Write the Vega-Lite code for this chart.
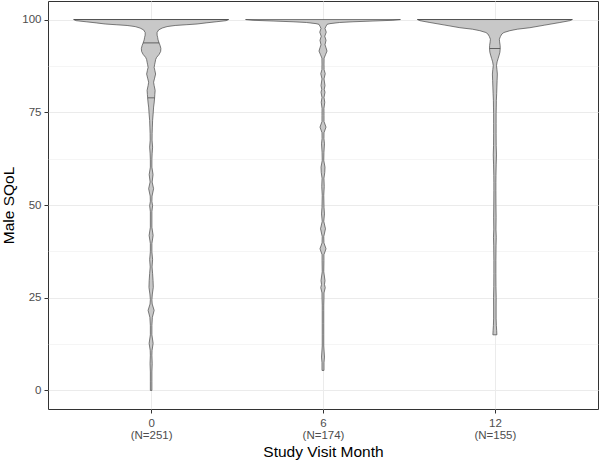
{
"$schema": "https://vega.github.io/schema/vega-lite/v6.json",
"width": 550, "height": 408,
"autosize": {"type": "none"},
"padding": {"left": 48, "top": 1, "right": 2, "bottom": 53},
"background": "white",
"config": {
  "view": {"stroke": "#333333", "strokeWidth": 1},
  "font": "Liberation Sans",
  "axis": {"domain": false, "gridColor": "#ebebeb", "tickColor": "#333333", "labelColor": "#4d4d4d", "labelFont": "Liberation Sans", "titleFont": "Liberation Sans", "titleFontWeight": "normal", "titleColor": "#000000", "labelFontSize": 11.5, "titleFontSize": 15.5}
},
"data": {"values": [
{"month":0,"value":100,"density":1,"part":"outline"},
{"month":0,"value":99.7,"density":0.968,"part":"outline"},
{"month":0,"value":99.4,"density":0.839,"part":"outline"},
{"month":0,"value":99.1,"density":0.71,"part":"outline"},
{"month":0,"value":98.8,"density":0.594,"part":"outline"},
{"month":0,"value":98.6,"density":0.452,"part":"outline"},
{"month":0,"value":98.4,"density":0.31,"part":"outline"},
{"month":0,"value":98.1,"density":0.206,"part":"outline"},
{"month":0,"value":97.7,"density":0.142,"part":"outline"},
{"month":0,"value":97.2,"density":0.097,"part":"outline"},
{"month":0,"value":96.5,"density":0.077,"part":"outline"},
{"month":0,"value":95.8,"density":0.077,"part":"outline"},
{"month":0,"value":95.2,"density":0.084,"part":"outline"},
{"month":0,"value":94.5,"density":0.09,"part":"outline"},
{"month":0,"value":93.7,"density":0.103,"part":"outline"},
{"month":0,"value":93,"density":0.116,"part":"outline"},
{"month":0,"value":92.2,"density":0.126,"part":"outline"},
{"month":0,"value":91.4,"density":0.123,"part":"outline"},
{"month":0,"value":90.6,"density":0.103,"part":"outline"},
{"month":0,"value":89.8,"density":0.071,"part":"outline"},
{"month":0,"value":89.2,"density":0.058,"part":"outline"},
{"month":0,"value":88.5,"density":0.052,"part":"outline"},
{"month":0,"value":87.8,"density":0.045,"part":"outline"},
{"month":0,"value":87.1,"density":0.039,"part":"outline"},
{"month":0,"value":86.3,"density":0.048,"part":"outline"},
{"month":0,"value":85.3,"density":0.058,"part":"outline"},
{"month":0,"value":84.2,"density":0.045,"part":"outline"},
{"month":0,"value":83.1,"density":0.032,"part":"outline"},
{"month":0,"value":82.2,"density":0.039,"part":"outline"},
{"month":0,"value":80.9,"density":0.052,"part":"outline"},
{"month":0,"value":79.8,"density":0.048,"part":"outline"},
{"month":0,"value":78.9,"density":0.045,"part":"outline"},
{"month":0,"value":77.5,"density":0.039,"part":"outline"},
{"month":0,"value":76.4,"density":0.032,"part":"outline"},
{"month":0,"value":74.5,"density":0.026,"part":"outline"},
{"month":0,"value":72.8,"density":0.019,"part":"outline"},
{"month":0,"value":71,"density":0.016,"part":"outline"},
{"month":0,"value":69.3,"density":0.013,"part":"outline"},
{"month":0,"value":67.5,"density":0.012,"part":"outline"},
{"month":0,"value":65.6,"density":0.019,"part":"outline"},
{"month":0,"value":63.8,"density":0.013,"part":"outline"},
{"month":0,"value":62.2,"density":0.01,"part":"outline"},
{"month":0,"value":60.2,"density":0.01,"part":"outline"},
{"month":0,"value":58.2,"density":0.025,"part":"outline"},
{"month":0,"value":56.2,"density":0.013,"part":"outline"},
{"month":0,"value":54.4,"density":0.032,"part":"outline"},
{"month":0,"value":52.4,"density":0.012,"part":"outline"},
{"month":0,"value":51,"density":0.01,"part":"outline"},
{"month":0,"value":49.8,"density":0.019,"part":"outline"},
{"month":0,"value":48.2,"density":0.01,"part":"outline"},
{"month":0,"value":46.5,"density":0.01,"part":"outline"},
{"month":0,"value":44,"density":0.01,"part":"outline"},
{"month":0,"value":41.8,"density":0.026,"part":"outline"},
{"month":0,"value":39.6,"density":0.01,"part":"outline"},
{"month":0,"value":37.4,"density":0.01,"part":"outline"},
{"month":0,"value":35.3,"density":0.019,"part":"outline"},
{"month":0,"value":33.3,"density":0.012,"part":"outline"},
{"month":0,"value":31.5,"density":0.019,"part":"outline"},
{"month":0,"value":29.6,"density":0.025,"part":"outline"},
{"month":0,"value":27.8,"density":0.028,"part":"outline"},
{"month":0,"value":26,"density":0.016,"part":"outline"},
{"month":0,"value":24.5,"density":0.01,"part":"outline"},
{"month":0,"value":23.3,"density":0.014,"part":"outline"},
{"month":0,"value":21.6,"density":0.039,"part":"outline"},
{"month":0,"value":19.7,"density":0.016,"part":"outline"},
{"month":0,"value":17.5,"density":0.01,"part":"outline"},
{"month":0,"value":15,"density":0.01,"part":"outline"},
{"month":0,"value":12.7,"density":0.026,"part":"outline"},
{"month":0,"value":10.8,"density":0.012,"part":"outline"},
{"month":0,"value":9.5,"density":0.01,"part":"outline"},
{"month":0,"value":7.2,"density":0.014,"part":"outline"},
{"month":0,"value":5,"density":0.01,"part":"outline"},
{"month":0,"value":2.5,"density":0.01,"part":"outline"},
{"month":0,"value":0,"density":0.01,"part":"outline"},
{"month":0,"value":93.7,"density":0.103,"part":"quantile"},
{"month":0,"value":78.9,"density":0.045,"part":"quantile"},
{"month":6,"value":100,"density":1,"part":"outline"},
{"month":6,"value":99.8,"density":0.903,"part":"outline"},
{"month":6,"value":99.6,"density":0.645,"part":"outline"},
{"month":6,"value":99.4,"density":0.387,"part":"outline"},
{"month":6,"value":99.2,"density":0.213,"part":"outline"},
{"month":6,"value":98.9,"density":0.09,"part":"outline"},
{"month":6,"value":98.7,"density":0.052,"part":"outline"},
{"month":6,"value":98.2,"density":0.039,"part":"outline"},
{"month":6,"value":97.6,"density":0.026,"part":"outline"},
{"month":6,"value":96.6,"density":0.042,"part":"outline"},
{"month":6,"value":95.5,"density":0.023,"part":"outline"},
{"month":6,"value":94.4,"density":0.039,"part":"outline"},
{"month":6,"value":93.2,"density":0.026,"part":"outline"},
{"month":6,"value":92.4,"density":0.039,"part":"outline"},
{"month":6,"value":91.5,"density":0.052,"part":"outline"},
{"month":6,"value":90.5,"density":0.032,"part":"outline"},
{"month":6,"value":89.6,"density":0.014,"part":"outline"},
{"month":6,"value":88,"density":0.013,"part":"outline"},
{"month":6,"value":86.5,"density":0.014,"part":"outline"},
{"month":6,"value":85.4,"density":0.029,"part":"outline"},
{"month":6,"value":84,"density":0.013,"part":"outline"},
{"month":6,"value":82.2,"density":0.026,"part":"outline"},
{"month":6,"value":81.2,"density":0.016,"part":"outline"},
{"month":6,"value":80.4,"density":0.026,"part":"outline"},
{"month":6,"value":79,"density":0.013,"part":"outline"},
{"month":6,"value":77.7,"density":0.023,"part":"outline"},
{"month":6,"value":76,"density":0.012,"part":"outline"},
{"month":6,"value":74.1,"density":0.013,"part":"outline"},
{"month":6,"value":72.5,"density":0.013,"part":"outline"},
{"month":6,"value":71,"density":0.039,"part":"outline"},
{"month":6,"value":69.5,"density":0.013,"part":"outline"},
{"month":6,"value":67.9,"density":0.012,"part":"outline"},
{"month":6,"value":66.5,"density":0.019,"part":"outline"},
{"month":6,"value":64.2,"density":0.012,"part":"outline"},
{"month":6,"value":62,"density":0.01,"part":"outline"},
{"month":6,"value":60.2,"density":0.026,"part":"outline"},
{"month":6,"value":58.8,"density":0.023,"part":"outline"},
{"month":6,"value":57.2,"density":0.012,"part":"outline"},
{"month":6,"value":55,"density":0.016,"part":"outline"},
{"month":6,"value":52.6,"density":0.01,"part":"outline"},
{"month":6,"value":49.4,"density":0.013,"part":"outline"},
{"month":6,"value":47.6,"density":0.019,"part":"outline"},
{"month":6,"value":45.6,"density":0.01,"part":"outline"},
{"month":6,"value":43.6,"density":0.032,"part":"outline"},
{"month":6,"value":41.5,"density":0.01,"part":"outline"},
{"month":6,"value":39.8,"density":0.012,"part":"outline"},
{"month":6,"value":38.2,"density":0.039,"part":"outline"},
{"month":6,"value":36.6,"density":0.012,"part":"outline"},
{"month":6,"value":35,"density":0.012,"part":"outline"},
{"month":6,"value":32,"density":0.01,"part":"outline"},
{"month":6,"value":29.6,"density":0.026,"part":"outline"},
{"month":6,"value":28.6,"density":0.019,"part":"outline"},
{"month":6,"value":27.7,"density":0.029,"part":"outline"},
{"month":6,"value":26.3,"density":0.013,"part":"outline"},
{"month":6,"value":25.2,"density":0.013,"part":"outline"},
{"month":6,"value":23,"density":0.01,"part":"outline"},
{"month":6,"value":21.6,"density":0.01,"part":"outline"},
{"month":6,"value":18,"density":0.01,"part":"outline"},
{"month":6,"value":15,"density":0.01,"part":"outline"},
{"month":6,"value":12,"density":0.01,"part":"outline"},
{"month":6,"value":9,"density":0.019,"part":"outline"},
{"month":6,"value":7.5,"density":0.013,"part":"outline"},
{"month":6,"value":5.4,"density":0.013,"part":"outline"},
{"month":12,"value":100,"density":1,"part":"outline"},
{"month":12,"value":99.7,"density":0.968,"part":"outline"},
{"month":12,"value":99.2,"density":0.839,"part":"outline"},
{"month":12,"value":98.5,"density":0.645,"part":"outline"},
{"month":12,"value":97.8,"density":0.452,"part":"outline"},
{"month":12,"value":97.4,"density":0.29,"part":"outline"},
{"month":12,"value":97,"density":0.194,"part":"outline"},
{"month":12,"value":96.5,"density":0.116,"part":"outline"},
{"month":12,"value":96.1,"density":0.09,"part":"outline"},
{"month":12,"value":95.4,"density":0.071,"part":"outline"},
{"month":12,"value":94.7,"density":0.058,"part":"outline"},
{"month":12,"value":94,"density":0.061,"part":"outline"},
{"month":12,"value":93,"density":0.068,"part":"outline"},
{"month":12,"value":92.2,"density":0.069,"part":"outline"},
{"month":12,"value":91.2,"density":0.065,"part":"outline"},
{"month":12,"value":90.4,"density":0.055,"part":"outline"},
{"month":12,"value":89.5,"density":0.042,"part":"outline"},
{"month":12,"value":88.6,"density":0.029,"part":"outline"},
{"month":12,"value":87.6,"density":0.021,"part":"outline"},
{"month":12,"value":86.5,"density":0.027,"part":"outline"},
{"month":12,"value":85.3,"density":0.032,"part":"outline"},
{"month":12,"value":83.6,"density":0.029,"part":"outline"},
{"month":12,"value":81.8,"density":0.026,"part":"outline"},
{"month":12,"value":80,"density":0.023,"part":"outline"},
{"month":12,"value":78.2,"density":0.019,"part":"outline"},
{"month":12,"value":76.4,"density":0.018,"part":"outline"},
{"month":12,"value":74.6,"density":0.016,"part":"outline"},
{"month":12,"value":72,"density":0.016,"part":"outline"},
{"month":12,"value":69.2,"density":0.016,"part":"outline"},
{"month":12,"value":66,"density":0.017,"part":"outline"},
{"month":12,"value":63.5,"density":0.021,"part":"outline"},
{"month":12,"value":61,"density":0.017,"part":"outline"},
{"month":12,"value":58,"density":0.014,"part":"outline"},
{"month":12,"value":56,"density":0.013,"part":"outline"},
{"month":12,"value":53.9,"density":0.013,"part":"outline"},
{"month":12,"value":50,"density":0.014,"part":"outline"},
{"month":12,"value":46.7,"density":0.016,"part":"outline"},
{"month":12,"value":43.5,"density":0.014,"part":"outline"},
{"month":12,"value":41.3,"density":0.018,"part":"outline"},
{"month":12,"value":39,"density":0.015,"part":"outline"},
{"month":12,"value":35,"density":0.013,"part":"outline"},
{"month":12,"value":31.5,"density":0.013,"part":"outline"},
{"month":12,"value":28,"density":0.014,"part":"outline"},
{"month":12,"value":25.1,"density":0.017,"part":"outline"},
{"month":12,"value":22.5,"density":0.016,"part":"outline"},
{"month":12,"value":19.5,"density":0.016,"part":"outline"},
{"month":12,"value":17.5,"density":0.019,"part":"outline"},
{"month":12,"value":16.2,"density":0.023,"part":"outline"},
{"month":12,"value":15,"density":0.026,"part":"outline"},
{"month":12,"value":92.2,"density":0.069,"part":"quantile"}
]},
"encoding": {
  "y": {"field": "value", "type": "quantitative",
    "scale": {"domain": [-5, 105], "nice": false, "zero": false, "padding": 0},
    "axis": {"title": "Male SQoL", "values": [0, 12.5, 25, 37.5, 50, 62.5, 75, 87.5, 100],
      "labelExpr": "datum.value % 25 == 0 ? datum.label : ''",
      "labelOverlap": false,
      "tickOpacity": {"condition": {"test": "datum.value % 25 == 0", "value": 1}, "value": 0},
      "gridWidth": {"condition": {"test": "datum.value % 25 == 0", "value": 1}, "value": 0.5},
      "tickSize": 4, "labelPadding": 3, "titlePadding": 5}}
},
"layer": [
  {"mark": {"type": "point", "opacity": 0},
   "encoding": {"x": {"field": "month", "type": "ordinal",
     "scale": {"type": "point", "padding": 0.6},
     "axis": {"title": "Study Visit Month", "labelAngle": 0, "grid": true, "tickSize": 4, "labelPadding": 4, "labelLineHeight": 12.5, "titlePadding": 3,
       "labelExpr": "[datum.label, datum.value == 0 ? '(N=251)' : datum.value == 6 ? '(N=174)' : '(N=155)']"}}}},
  {"transform": [{"filter": "datum.part == 'outline' && datum.month == 0"}],
   "mark": {"type": "area", "orient": "horizontal", "fill": "#c8c8c8", "stroke": "#474747", "strokeWidth": 0.7},
   "encoding": {"x": {"field": "density", "type": "quantitative", "stack": "center", "scale": {"domain": [-0.1658, 3.3852], "nice": false, "zero": false}, "axis": null}}},
  {"transform": [{"filter": "datum.part == 'outline' && datum.month == 6"}],
   "mark": {"type": "area", "orient": "horizontal", "fill": "#c8c8c8", "stroke": "#474747", "strokeWidth": 0.7},
   "encoding": {"x": {"field": "density", "type": "quantitative", "stack": "center", "scale": {"domain": [-1.2755, 2.2755], "nice": false, "zero": false}, "axis": null}}},
  {"transform": [{"filter": "datum.part == 'outline' && datum.month == 12"}],
   "mark": {"type": "area", "orient": "horizontal", "fill": "#c8c8c8", "stroke": "#474747", "strokeWidth": 0.7},
   "encoding": {"x": {"field": "density", "type": "quantitative", "stack": "center", "scale": {"domain": [-2.3852, 1.1658], "nice": false, "zero": false}, "axis": null}}},
  {"transform": [{"filter": "(datum.part == 'quantile' || datum.value == 100) && datum.month == 0"}],
   "mark": {"type": "bar", "orient": "horizontal", "size": 0.8, "fill": "#474747"},
   "encoding": {"x": {"field": "density", "type": "quantitative", "stack": "center", "scale": {"domain": [-0.1658, 3.3852], "nice": false, "zero": false}, "axis": null}}},
  {"transform": [{"filter": "(datum.part == 'quantile' || datum.value == 100) && datum.month == 12"}],
   "mark": {"type": "bar", "orient": "horizontal", "size": 0.8, "fill": "#474747"},
   "encoding": {"x": {"field": "density", "type": "quantitative", "stack": "center", "scale": {"domain": [-2.3852, 1.1658], "nice": false, "zero": false}, "axis": null}}}
],
"resolve": {"scale": {"x": "independent"}}
}
